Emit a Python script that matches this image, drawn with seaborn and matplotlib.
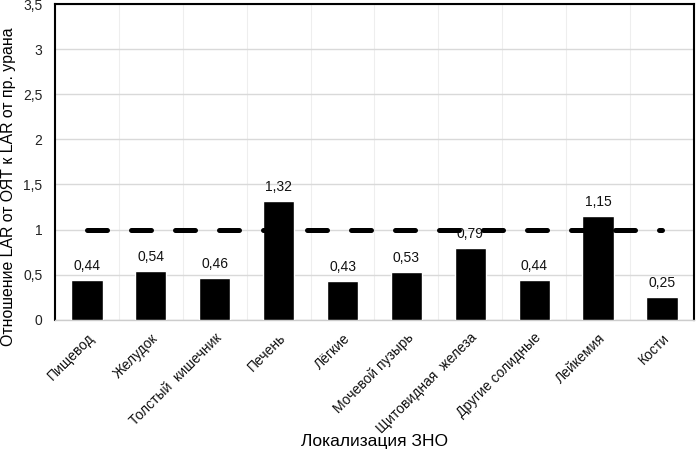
import numpy as np
import pandas as pd
import matplotlib
matplotlib.use("Agg")
import matplotlib.pyplot as plt
import seaborn as sns
from matplotlib.ticker import FuncFormatter, MultipleLocator

categories = ["Пищевод", "Желудок", "Толстый  кишечник", "Печень", "Лёгкие",
              "Мочевой пузырь", "Щитовидная  железа", "Другие солидные",
              "Лейкемия", "Кости"]
values = [0.44, 0.54, 0.46, 1.32, 0.43, 0.53, 0.80, 0.44, 1.15, 0.25]
value_labels = ["0,44", "0,54", "0,46", "1,32", "0,43", "0,53", "0,79", "0,44", "1,15", "0,25"]
threshold = [1.0] * len(categories)

sns.set_theme(style="white")
plt.rcParams["font.family"] = ["Liberation Sans", "DejaVu Sans"]

fig = plt.figure(figsize=(6.96, 4.51), dpi=100)
ax = fig.add_axes([0.079, 0.291, 0.918, 0.700])

df = pd.DataFrame({"cat": categories, "val": values})
sns.barplot(data=df, x="cat", y="val", color="black", saturation=1,
            width=0.49, ax=ax, zorder=3)

labels_txt = ax.bar_label(ax.containers[0], labels=value_labels, padding=5,
                          fontsize=10, color="#111111")
for t in labels_txt:
    t.set_zorder(4)

sns.lineplot(x=np.arange(len(categories)), y=threshold, ax=ax, color="black",
             linewidth=3.6, zorder=5)
ln = ax.lines[-1]
ln.set_linestyle((0, (4.0, 4.8)))
ln.set_dash_capstyle("round")

ax.set_ylim(0, 3.5)
ax.set_xlim(-0.5, len(categories) - 0.5)
ax.yaxis.set_major_locator(MultipleLocator(0.5))
ax.yaxis.set_major_formatter(FuncFormatter(lambda v, p: ("%g" % v).replace(".", ",")))
ax.set_xticks(np.arange(len(categories)))
ax.set_xticklabels(categories, rotation=45, ha="right", rotation_mode="anchor", fontsize=10)
ax.tick_params(axis="y", labelsize=10, length=0, pad=9, colors="#222222")
ax.tick_params(axis="x", length=0, pad=8, colors="#111111")

ax.grid(axis="y", color="#d9d9d9", linewidth=1, zorder=0)
for b in np.arange(len(categories) + 1) - 0.5:
    ax.axvline(b, color="#eeeeee", linewidth=0.8, zorder=0)
ax.set_axisbelow(True)

for s in ["left", "top", "right"]:
    ax.spines[s].set_color("black")
    ax.spines[s].set_linewidth(1.5)
ax.spines["bottom"].set_color("#cccccc")
ax.spines["bottom"].set_linewidth(1)

ax.set_xlabel("Локализация ЗНО", fontsize=12.5, color="black")
ax.set_ylabel("Отношение LAR от ОЯТ к LAR от пр. урана", fontsize=11.4, color="black")
ax.yaxis.set_label_coords(-0.061, 0.42)
ax.xaxis.set_label_coords(0.5, -0.362)

fig.savefig("out.png", dpi=100)
